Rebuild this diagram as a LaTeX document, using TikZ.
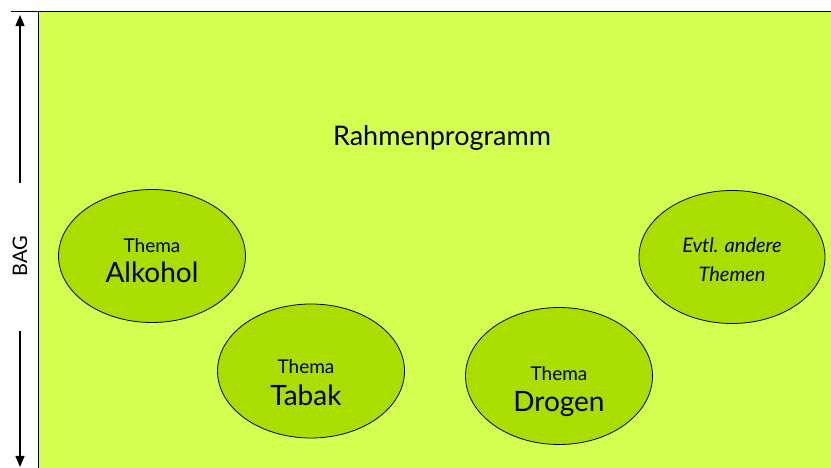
\documentclass[tikz,border=0pt]{standalone}
\usepackage{fontspec}
\setmainfont{Lato}
\usepgflibrary{arrows}
\usetikzlibrary{shapes}
\definecolor{rahmen}{RGB}{212,255,80}
\definecolor{thema}{RGB}{170,221,0}

\begin{document}
\begin{tikzpicture}[x=1pt,y=-1pt,
  oval/.style={ellipse,draw,fill=thema,line width=.8pt,minimum width=187pt,minimum height=133pt,inner sep=0pt},
  klein/.style={anchor=base,inner sep=0pt,font=\fontsize{19}{22}\selectfont},
  gross/.style={anchor=base,inner sep=0pt,font=\fontsize{28}{31}\selectfont},
  pfeil/.style={line width=1.6pt,-triangle 45}]
\useasboundingbox (0,0) rectangle (831,468);
% the frame
\fill[rahmen] (38,11) rectangle (831,468);
\draw[line width=.8pt] (11,11) -- (831,11);
\draw[line width=.8pt] (38,11) -- (38,468);
\node[anchor=base,inner sep=0pt,font=\fontsize{27}{30}\selectfont] at (442,146) (rp) {Rahmenprogramm};
% BAG on the left
\node[rotate=90,font=\fontsize{20}{23}\selectfont] at (20,256) (bag) {BAG};
\coordinate (o1) at (20,183);
\coordinate (o2) at (20,15);
\coordinate (u1) at (20,331);
\coordinate (u2) at (20,467);
\draw[pfeil] (o1) -- (o2);
\draw[pfeil] (u1) -- (u2);
% the topics
\node[oval] at (152,256) (alk) {};
\node[oval,minimum height=134pt] at (311,371) (tab) {};
\node[oval,minimum height=137pt] at (559,376) (dro) {};
\node[oval,minimum width=186pt] at (732,257) (evt) {};
%     labels
\node[klein] at ([yshift=4pt]alk.center) (alk1) {Thema};
\node[gross] at ([yshift=-27pt]alk.center) (alk2) {Alkohol};
\node[klein] at ([xshift=-5pt,yshift=-2pt]tab.center) (tab1) {Thema};
\node[gross] at ([xshift=-5pt,yshift=-34pt]tab.center) (tab2) {Tabak};
\node[klein] at ([yshift=-4pt]dro.center) (dro1) {Thema};
\node[gross] at ([yshift=-35pt]dro.center) (dro2) {Drogen};
\node[klein,font=\fontsize{20}{23}\selectfont\itshape] at ([yshift=4pt]evt.center) (evt1) {Evtl. andere};
\node[klein,font=\fontsize{20}{23}\selectfont\itshape] at ([yshift=-25pt]evt.center) (evt2) {Themen};
\end{tikzpicture}
\end{document}
